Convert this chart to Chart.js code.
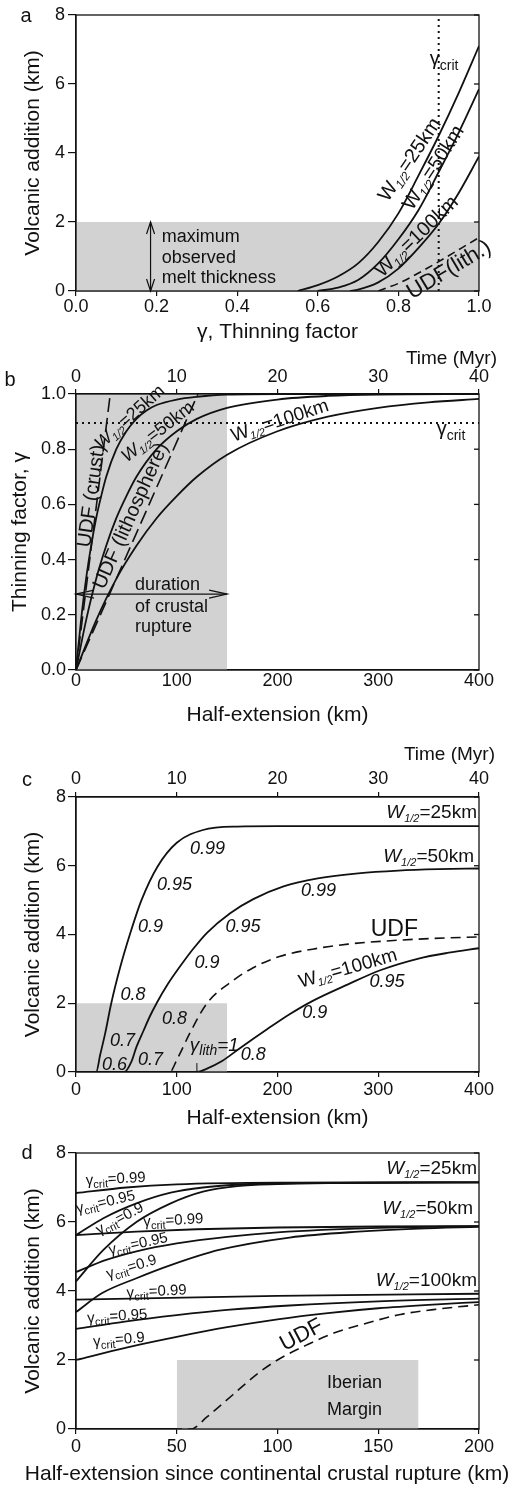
<!DOCTYPE html>
<html>
<head>
<meta charset="utf-8">
<title>Volcanic addition and thinning factor</title>
<script src="https://cdn.jsdelivr.net/npm/chart.js@4.4.1/dist/chart.umd.min.js"></script>
<style>
  html, body { margin: 0; padding: 0; background: #fff; }
  body { position: relative; width: 515px; height: 1485px; overflow: hidden; }
  canvas { position: absolute; left: 0; }
</style>
</head>
<body>
<canvas id="panelA" width="515" height="345" style="top:0px"></canvas>
<canvas id="panelB" width="515" height="383" style="top:345px"></canvas>
<canvas id="panelC" width="515" height="407" style="top:728px"></canvas>
<canvas id="panelD" width="515" height="350" style="top:1135px"></canvas>
<script>
/* Four stacked panels: melt thickness vs thinning, thinning vs extension,
   melt vs extension, melt vs extension after crustal rupture */

const FONT = "'Liberation Sans', Arial, Helvetica, sans-serif";
const INK = '#111';
const SHADE = '#d2d2d2';

// ---- (a) volcanic addition (km) against thinning factor ----
const aGammaW25 = [0.55, 0.6, 0.65, 0.7, 0.75, 0.8, 0.85, 0.9, 0.95, 1.0];
const aMeltW25 = [0, 0.17, 0.42, 0.8, 1.42, 2.25, 3.35, 4.5, 5.75, 7.1];
const aGammaW50 = [0.6, 0.65, 0.7, 0.75, 0.8, 0.85, 0.9, 0.95, 1.0];
const aMeltW50 = [0, 0.1, 0.32, 0.8, 1.5, 2.35, 3.45, 4.6, 5.85];
const aGammaW100 = [0.68, 0.7, 0.75, 0.8, 0.85, 0.9, 0.95, 1.0];
const aMeltW100 = [0, 0.04, 0.25, 0.65, 1.25, 1.95, 2.85, 3.9];
const aGammaUdf = [0.75, 0.8, 0.85, 0.9, 0.95, 1.0];
const aMeltUdf = [0, 0.22, 0.52, 0.85, 1.2, 1.55];
const aCritGamma = [0.9, 0.9];
const aCritSpan = [0, 8];
const aShadeGamma = [0, 1];
const aShadeTop = [2, 2];

// ---- (b) thinning factor against half-extension (km) ----
const bExtW25 = [0, 5, 10, 15, 20, 25, 30, 40, 50, 60, 70, 80, 100, 120, 150, 200, 400];
const bThinW25 = [0, 0.18, 0.33, 0.45, 0.55, 0.63, 0.70, 0.80, 0.865, 0.91, 0.94, 0.96, 0.98, 0.99, 0.998, 1.0, 1.0];
const bExtW50 = [0, 10, 20, 30, 40, 50, 60, 80, 100, 120, 150, 200, 250, 300, 400];
const bThinW50 = [0, 0.18, 0.33, 0.45, 0.55, 0.63, 0.70, 0.80, 0.865, 0.91, 0.95, 0.98, 0.993, 0.998, 1.0];
const bExtW100 = [0, 20, 40, 60, 80, 100, 120, 150, 200, 250, 300, 350, 400];
const bThinW100 = [0, 0.18, 0.33, 0.45, 0.55, 0.63, 0.70, 0.78, 0.865, 0.918, 0.95, 0.97, 0.982];
const bExtUdfCrust = [0, 34];
const bThinUdfCrust = [0, 1];
const bExtUdfLith = [0, 121];
const bThinUdfLith = [0, 1];
const bCritExt = [0, 400];
const bCritLevel = [0.895, 0.895];
const bShadeExt = [0, 150];
const bShadeTop = [1, 1];

// ---- (c) volcanic addition against half-extension ----
const cExtW25 = [0, 20, 24, 29, 35, 44, 54, 65, 81, 100, 126, 160, 200, 400];
const cMeltW25 = [0, 0, 0.5, 1.13, 2.0, 3.06, 4.05, 5.0, 5.98, 6.67, 7.04, 7.14, 7.15, 7.15];
const cExtW50 = [0, 48, 55, 60, 67, 73, 80, 91, 103, 116, 130, 153, 176, 206, 240, 280, 320, 360, 400];
const cMeltW50 = [0, 0, 0.3, 0.73, 1.2, 1.6, 2.0, 2.55, 3.06, 3.57, 4.05, 4.62, 5.03, 5.4, 5.63, 5.78, 5.86, 5.9, 5.92];
const cExtUdf = [0, 93, 100, 113, 130, 153, 175, 202, 240, 270, 302, 350, 400];
const cMeltUdf = [0, 0, 0.35, 1.13, 2.0, 2.6, 3.02, 3.36, 3.6, 3.72, 3.8, 3.88, 3.93];
const cExtW100 = [0, 120, 130, 145, 163, 190, 212, 235, 270, 302, 340, 370, 400];
const cMeltW100 = [0, 0, 0.1, 0.32, 0.7, 1.25, 1.68, 2.07, 2.55, 2.96, 3.3, 3.47, 3.6];
const cLithExt = [120, 120];
const cLithMark = [0, 0.26];
const cShadeExt = [0, 150];
const cShadeTop = [2, 2];

// ---- (d) volcanic addition against half-extension since crustal rupture ----
const dExtW25c99 = [0, 25, 50, 100, 200];
const dMeltW25c99 = [6.84, 7.0, 7.09, 7.14, 7.15];
const dExtW25c95 = [0, 13.6, 30, 47, 63, 80, 110, 200];
const dMeltW25c95 = [5.62, 6.11, 6.54, 6.85, 7.0, 7.08, 7.13, 7.15];
const dExtW25c90 = [0, 13.6, 30, 47, 63, 80, 100, 130, 200];
const dMeltW25c90 = [4.28, 5.19, 6.0, 6.54, 6.88, 7.04, 7.1, 7.13, 7.15];
const dExtW50c99 = [0, 30, 60, 100, 150, 200];
const dMeltW50c99 = [5.62, 5.72, 5.79, 5.84, 5.87, 5.88];
const dExtW50c95 = [0, 15, 30, 50, 75, 100, 150, 200];
const dMeltW50c95 = [4.55, 4.9, 5.15, 5.38, 5.57, 5.7, 5.83, 5.88];
const dExtW50c90 = [0, 13, 30, 47, 71, 106, 140, 170, 200];
const dMeltW50c90 = [3.39, 3.94, 4.37, 4.75, 5.19, 5.55, 5.72, 5.81, 5.86];
const dExtW100c99 = [0, 100, 200];
const dMeltW100c99 = [3.75, 3.86, 3.92];
const dExtW100c95 = [0, 25, 50, 75, 106, 150, 200];
const dMeltW100c95 = [2.9, 3.12, 3.3, 3.45, 3.58, 3.7, 3.78];
const dExtW100c90 = [0, 25, 50, 75, 100, 125, 150, 175, 200];
const dMeltW100c90 = [2.0, 2.36, 2.67, 2.95, 3.18, 3.36, 3.5, 3.6, 3.68];
const dExtUdf = [0, 57, 65, 78, 90, 100, 115, 128, 145, 161, 180, 200];
const dMeltUdf = [0, 0, 0.35, 1.0, 1.6, 2.0, 2.45, 2.78, 3.08, 3.32, 3.48, 3.6];
const dShadeExt = [50, 170];
const dShadeTop = [2, 2];

// ---- helpers ----
function pts(xs, ys) {
    return xs.map(function (x, i) { return { x: x, y: ys[i] }; });
}

function curve(xs, ys, extra) {
    return Object.assign({
        data: pts(xs, ys), borderColor: INK, borderWidth: 1.8, pointRadius: 0,
        fill: false, cubicInterpolationMode: 'monotone', order: 1
    }, extra || {});
}

function dashed(xs, ys, dash) {
    return curve(xs, ys, { borderDash: dash, borderWidth: 1.6 });
}

function straight(xs, ys, extra) {
    return Object.assign({
        data: pts(xs, ys), borderColor: INK, borderWidth: 1.8, pointRadius: 0,
        fill: false, tension: 0, order: 1
    }, extra || {});
}

function band(xs, ys) {
    return {
        data: pts(xs, ys), borderWidth: 0, borderColor: 'rgba(0,0,0,0)', pointRadius: 0,
        fill: 'origin', backgroundColor: SHADE, tension: 0, order: 10
    };
}

function fontStr(size, italic) {
    return (italic ? 'italic ' : '') + size + 'px ' + FONT;
}

// draws a run of text pieces (for subscripts), rotated about (x, y)
function rich(ctx, parts, x, y, angleDeg, align) {
    ctx.save();
    ctx.translate(x, y);
    ctx.rotate((angleDeg || 0) * Math.PI / 180);
    ctx.textBaseline = 'middle';
    ctx.textAlign = 'left';
    ctx.fillStyle = INK;
    let total = 0;
    const widths = parts.map(function (p) {
        ctx.font = fontStr(p.size, p.italic);
        const w = ctx.measureText(p.t).width;
        total += w;
        return w;
    });
    let cx = align === 'left' ? 0 : align === 'right' ? -total : -total / 2;
    parts.forEach(function (p, i) {
        ctx.font = fontStr(p.size, p.italic);
        ctx.fillText(p.t, cx, p.dy || 0);
        cx += widths[i];
    });
    ctx.restore();
}

function plain(t, size, italic) {
    return [{ t: t, size: size, italic: italic }];
}

function wLabel(rest, size, italic) {
    return [
        { t: 'W', size: size, italic: italic },
        { t: '1/2', size: Math.round(size * 0.6), italic: true, dy: size * 0.3 },
        { t: rest, size: size }
    ];
}

function gammaLabel(sub, rest, size, italic) {
    return [
        { t: 'γ', size: size, italic: italic },
        { t: sub, size: Math.round(size * 0.72), italic: italic, dy: size * 0.3 },
        { t: rest, size: size, italic: italic }
    ];
}

function arrowHead(ctx, x, y, ang, len, half) {
    const bx = x - len * Math.cos(ang), by = y - len * Math.sin(ang);
    const nx = -Math.sin(ang) * half, ny = Math.cos(ang) * half;
    ctx.beginPath();
    ctx.moveTo(bx + nx, by + ny);
    ctx.lineTo(x, y);
    ctx.lineTo(bx - nx, by - ny);
    ctx.stroke();
}

function doubleArrow(ctx, x1, y1, x2, y2, len, half) {
    ctx.save();
    ctx.strokeStyle = INK;
    ctx.lineWidth = 1.2;
    ctx.beginPath();
    ctx.moveTo(x1, y1);
    ctx.lineTo(x2, y2);
    ctx.stroke();
    const ang = Math.atan2(y2 - y1, x2 - x1);
    arrowHead(ctx, x2, y2, ang, len, half);
    arrowHead(ctx, x1, y1, ang + Math.PI, len, half);
    ctx.restore();
}

function yAxis(o) {
    return {
        type: 'linear', position: 'left', min: o.min, max: o.max,
        afterFit: function (s) { s.width = 76; },
        ticks: { stepSize: o.step, color: INK, padding: o.pad, font: { family: FONT, size: 18 }, callback: o.fmt },
        grid: { drawOnChartArea: false, tickLength: 8, color: INK, lineWidth: 1.2 },
        border: { color: INK, width: 1.3 },
        title: {
            display: true, text: o.title, color: INK,
            font: { family: FONT, size: 21 }, padding: { top: o.titlePad, bottom: 0 }
        }
    };
}

function xAxis(o) {
    return {
        type: 'linear', axis: 'x', position: o.position, min: o.min, max: o.max,
        afterFit: function (s) { s.height = o.height; },
        ticks: { stepSize: o.step, color: INK, padding: o.pad, maxRotation: 0, font: { family: FONT, size: 18 }, callback: o.fmt },
        grid: { drawOnChartArea: false, drawTicks: o.tick > 0, tickLength: o.tick, color: INK, lineWidth: 1.2 },
        border: { color: INK, width: 1.3 },
        title: {
            display: !!o.title, text: o.title || '', color: INK,
            font: { family: FONT, size: 21 }, padding: { top: 0, bottom: o.titlePad || 0 }
        }
    };
}

function paperPlugin(id, drawNotes) {
    return {
        id: id,
        afterDatasetsDraw: function (chart) {
            const ctx = chart.ctx, a = chart.chartArea, ys = chart.scales.y;
            ctx.save();
            ctx.strokeStyle = INK;
            ctx.lineWidth = 1.3;
            ctx.strokeRect(a.left, a.top, a.right - a.left, a.bottom - a.top);
            // short inward ticks on the right edge
            ys.ticks.forEach(function (t) {
                const py = ys.getPixelForValue(t.value);
                ctx.beginPath();
                ctx.moveTo(a.right, py);
                ctx.lineTo(a.right - 5, py);
                ctx.stroke();
            });
            ctx.restore();
        },
        afterDraw: function (chart) {
            const xs = chart.scales.x, ys = chart.scales.y;
            drawNotes(chart.ctx,
                function (v) { return xs.getPixelForValue(v); },
                function (v) { return ys.getPixelForValue(v); });
        }
    };
}

function makeChart(canvasId, datasets, scales, padding, notes) {
    return new Chart(document.getElementById(canvasId), {
        type: 'line',
        data: { datasets: datasets },
        options: {
            responsive: false,
            animation: false,
            devicePixelRatio: 1,
            layout: { padding: padding },
            plugins: { legend: { display: false }, tooltip: { enabled: false } },
            elements: { line: { borderJoinStyle: 'round' } },
            scales: scales
        },
        plugins: [paperPlugin(canvasId + 'Notes', notes)]
    });
}

const fmt1 = function (v) { return Number(v).toFixed(1); };
const fmt0 = function (v) { return String(Math.round(v)); };

// ---- panel a ----
makeChart('panelA', [
    band(aShadeGamma, aShadeTop),
    curve(aGammaW25, aMeltW25),
    curve(aGammaW50, aMeltW50),
    curve(aGammaW100, aMeltW100),
    dashed(aGammaUdf, aMeltUdf, [8, 5]),
    straight(aCritGamma, aCritSpan, { borderDash: [2, 4], borderWidth: 2 })
], {
    x: xAxis({ position: 'bottom', min: 0, max: 1, step: 0.2, fmt: fmt1, height: 54, tick: 5, pad: 0, title: 'γ, Thinning factor', titlePad: 0 }),
    y: yAxis({ min: 0, max: 8, step: 2, fmt: fmt0, pad: 3, title: 'Volcanic addition (km)', titlePad: 21 })
}, { top: 15, right: 36, bottom: 0, left: 0 }, function (ctx, X, Y) {
    rich(ctx, plain('a', 20), 26, 16, 0, 'center');
    rich(ctx, gammaLabel('crit', '', 20, false), X(0.878), Y(6.7), 0, 'left');
    rich(ctx, wLabel('=25km', 20, false), X(0.829), Y(3.8), -56, 'center');
    rich(ctx, wLabel('=50km', 20, false), X(0.888), Y(3.57), -57, 'center');
    rich(ctx, wLabel('=100km', 20, false), X(0.846), Y(1.57), -44, 'center');
    rich(ctx, plain('UDF(lith.)', 22), X(0.926), Y(0.61), -31, 'center');
    rich(ctx, plain('maximum', 18), X(0.213), Y(1.57), 0, 'left');
    rich(ctx, plain('observed', 18), X(0.213), Y(0.96), 0, 'left');
    rich(ctx, plain('melt thickness', 18), X(0.213), Y(0.38), 0, 'left');
    doubleArrow(ctx, X(0.185), Y(0), X(0.185), Y(2), 12, 4);
});

// ---- panel b ----
makeChart('panelB', [
    band(bShadeExt, bShadeTop),
    curve(bExtW25, bThinW25),
    curve(bExtW50, bThinW50),
    curve(bExtW100, bThinW100),
    straight(bExtUdfCrust, bThinUdfCrust, { borderDash: [14, 6], borderWidth: 1.6 }),
    straight(bExtUdfLith, bThinUdfLith, { borderDash: [14, 6], borderWidth: 1.6 }),
    straight(bCritExt, bCritLevel, { borderDash: [2, 4], borderWidth: 2 })
], {
    x: xAxis({ position: 'bottom', min: 0, max: 400, step: 100, fmt: fmt0, height: 58, tick: 0, pad: 0, title: 'Half-extension (km)', titlePad: 0 }),
    x2: xAxis({ position: 'top', min: 0, max: 40, step: 10, fmt: fmt0, height: 49, tick: 5, pad: 1 }),
    y: yAxis({ min: 0, max: 1, step: 0.2, fmt: fmt1, pad: 2, title: 'Thinning factor, γ', titlePad: 8 })
}, { top: 0, right: 36, bottom: 0, left: 0 }, function (ctx, X, Y) {
    rich(ctx, plain('b', 20), 10, 35, 0, 'center');
    rich(ctx, plain('Time (Myr)', 19), 497, 14, 0, 'right');
    rich(ctx, gammaLabel('crit', '', 20, false), X(358), Y(0.87), 0, 'left');
    rich(ctx, plain('UDF (crust)', 20), X(15.6), Y(0.63), -82, 'center');
    rich(ctx, wLabel('=25km', 18, true), X(53.6), Y(0.915), -42, 'center');
    rich(ctx, wLabel('=50km', 18, true), X(81.4), Y(0.862), -38, 'center');
    rich(ctx, plain('UDF (lithosphere)', 20), X(54.6), Y(0.558), -66, 'center');
    rich(ctx, wLabel('=100km', 19, false), X(202.5), Y(0.902), -18, 'center');
    rich(ctx, plain('duration', 18), X(58.6), Y(0.308), 0, 'left');
    rich(ctx, plain('of crustal', 18), X(58.6), Y(0.228), 0, 'left');
    rich(ctx, plain('rupture', 18), X(58.6), Y(0.156), 0, 'left');
    doubleArrow(ctx, X(0), Y(0.275), X(150), Y(0.275), 18, 4);
});

// ---- panel c ----
makeChart('panelC', [
    band(cShadeExt, cShadeTop),
    curve(cExtW25, cMeltW25),
    curve(cExtW50, cMeltW50),
    curve(cExtW100, cMeltW100),
    dashed(cExtUdf, cMeltUdf, [10, 6]),
    straight(cLithExt, cLithMark, { borderWidth: 1 })
], {
    x: xAxis({ position: 'bottom', min: 0, max: 400, step: 100, fmt: fmt0, height: 63, tick: 5, pad: 2, title: 'Half-extension (km)', titlePad: 4 }),
    x2: xAxis({ position: 'top', min: 0, max: 40, step: 10, fmt: fmt0, height: 69, tick: 5, pad: 2 }),
    y: yAxis({ min: 0, max: 8, step: 2, fmt: fmt0, pad: 2, title: 'Volcanic addition (km)', titlePad: 21 })
}, { top: 0, right: 36, bottom: 0, left: 0 }, function (ctx, X, Y) {
    rich(ctx, plain('c', 20), 27, 52, 0, 'center');
    rich(ctx, plain('Time (Myr)', 19), 495, 27, 0, 'right');
    rich(ctx, wLabel('=25km', 19, true), X(398), Y(7.53), 0, 'right');
    rich(ctx, wLabel('=50km', 19, true), X(395), Y(6.25), 0, 'right');
    rich(ctx, plain('UDF', 23), X(316), Y(4.13), 0, 'center');
    rich(ctx, wLabel('=100km', 19, false), X(270), Y(3.0), -16, 'center');
    const nums = [
        ['0.99', 130.5, 6.49], ['0.95', 97.8, 5.44], ['0.9', 74, 4.22], ['0.8', 56.6, 2.24],
        ['0.7', 46.2, 0.9], ['0.6', 38.2, 0.2],
        ['0.99', 240.7, 5.27], ['0.95', 165.8, 4.22], ['0.9', 130, 3.17], ['0.8', 97.8, 1.54], ['0.7', 74, 0.35],
        ['0.95', 308.7, 2.62], ['0.9', 237, 1.72], ['0.8', 176, 0.49]
    ];
    nums.forEach(function (n) { rich(ctx, plain(n[0], 18, true), X(n[1]), Y(n[2]), 0, 'center'); });
    rich(ctx, gammaLabel('lith', '=1', 19, true), X(113), Y(0.76), 0, 'left');
});

// ---- panel d ----
makeChart('panelD', [
    band(dShadeExt, dShadeTop),
    curve(dExtW25c99, dMeltW25c99),
    curve(dExtW25c95, dMeltW25c95),
    curve(dExtW25c90, dMeltW25c90),
    curve(dExtW50c99, dMeltW50c99),
    curve(dExtW50c95, dMeltW50c95),
    curve(dExtW50c90, dMeltW50c90),
    curve(dExtW100c99, dMeltW100c99),
    curve(dExtW100c95, dMeltW100c95),
    curve(dExtW100c90, dMeltW100c90),
    dashed(dExtUdf, dMeltUdf, [10, 6])
], {
    x: xAxis({ position: 'bottom', min: 0, max: 200, step: 50, fmt: fmt0, height: 56, tick: 5, pad: 2 }),
    y: yAxis({ min: 0, max: 8, step: 2, fmt: fmt0, pad: 2, title: 'Volcanic addition (km)', titlePad: 21 })
}, { top: 18, right: 36, bottom: 0, left: 0 }, function (ctx, X, Y) {
    rich(ctx, plain('d', 20), 27, 18, 0, 'center');
    rich(ctx, plain('Half-extension since continental crustal rupture (km)', 21), 267, 339, 0, 'center');
    rich(ctx, wLabel('=25km', 19, true), X(199), Y(7.54), 0, 'right');
    rich(ctx, wLabel('=50km', 19, true), X(197), Y(6.38), 0, 'right');
    rich(ctx, wLabel('=100km', 19, true), X(199), Y(4.29), 0, 'right');
    rich(ctx, plain('UDF', 22), X(112), Y(2.72), -28, 'center');
    rich(ctx, plain('Iberian', 18), X(124.6), Y(1.33), 0, 'left');
    rich(ctx, plain('Margin', 18), X(124.6), Y(0.55), 0, 'left');
    const crit = [
        ['=0.99', 19.7, 7.24, -3], ['=0.95', 14.7, 6.57, -13], ['=0.9', 21.8, 6.09, -28],
        ['=0.99', 48.3, 6.04, -3], ['=0.95', 30.9, 5.36, -12], ['=0.9', 27.6, 4.69, -17],
        ['=0.99', 40, 3.98, -3], ['=0.95', 20.5, 3.26, -4], ['=0.9', 21.3, 2.58, -5]
    ];
    crit.forEach(function (c) { rich(ctx, gammaLabel('crit', c[0], 15, false), X(c[1]), Y(c[2]), c[3], 'center'); });
});
</script>
</body>
</html>
